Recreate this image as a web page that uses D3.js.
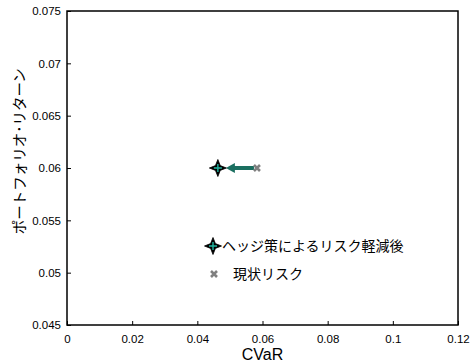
<!DOCTYPE html>
<html><head><meta charset="utf-8">
<script src="https://cdn.jsdelivr.net/npm/d3@7"></script>
<style>body{margin:0;background:#fff}svg{display:block}text{font-family:"Liberation Sans",Arial,"Noto Sans CJK JP",sans-serif}</style>
</head><body>
<script>
const xTicks = [0, 0.02, 0.04, 0.06, 0.08, 0.1, 0.12];
const yTicks = [0.045, 0.05, 0.055, 0.06, 0.065, 0.07, 0.075];
const seriesNames = ["ヘッジ策によるリスク軽減後", "現状リスク"];
const hedgedPoint = [0.0463, 0.06];
const currentPoint = [0.0583, 0.06];

const W = 473, H = 364;
const m = {l: 67, r: 15, t: 11, b: 39};
const svg = d3.select("body").append("svg").attr("width", W).attr("height", H);
const x = d3.scaleLinear().domain([0, 0.12]).range([m.l, W - m.r]);
const y = d3.scaleLinear().domain([0.045, 0.075]).range([H - m.b, m.t]);
const fmt = d => d3.format("")(+d.toFixed(3));

svg.append("rect").attr("x", m.l).attr("y", m.t).attr("width", x(0.12) - m.l).attr("height", y(0.045) - m.t)
  .attr("fill", "none").attr("stroke", "#000").attr("stroke-width", 1.5);

const xa = svg.append("g").attr("transform", `translate(0,${y(0.045)})`)
  .call(d3.axisBottom(x).tickValues(xTicks).tickSize(-4).tickPadding(8).tickFormat(fmt));
const ya = svg.append("g").attr("transform", `translate(${m.l},0)`)
  .call(d3.axisLeft(y).tickValues(yTicks).tickSize(-4).tickPadding(6).tickFormat(fmt));
[xa, ya].forEach(a => {
  a.select(".domain").remove();
  a.selectAll("line").attr("stroke", "#000");
  a.selectAll("text").attr("font-size", 11.5).attr("fill", "#000");
});
xa.selectAll("text").attr("dy", "0.85em");

svg.append("text").attr("x", x(0.06)).attr("y", H - 4).attr("text-anchor", "middle")
  .attr("font-size", 16).text("CVaR");
svg.append("text").attr("transform", `translate(25,${y(0.0616)}) rotate(-90)`)
  .attr("text-anchor", "middle").attr("font-size", 14.5).text("ポートフォリオ･リターン");

const teal = "#1b6f60";
function star(g, cx, cy) {
  const s = 8.5, w = 2.4;
  g.append("path").attr("d", `M${cx},${cy - s}L${cx + w},${cy - w}L${cx + s},${cy}L${cx + w},${cy + w}L${cx},${cy + s}L${cx - w},${cy + w}L${cx - s},${cy}L${cx - w},${cy - w}Z`)
    .attr("fill", "#000").attr("stroke", "#000").attr("stroke-width", 0.8).attr("stroke-linejoin", "round");
  g.append("path").attr("d", `M${cx - 4},${cy}H${cx + 4}M${cx},${cy - 4}V${cy + 4}`)
    .attr("stroke", "#22b5a0").attr("stroke-width", 1.4);
}
function cross(g, cx, cy) {
  const s = 3;
  g.append("path").attr("d", `M${cx - s},${cy - s}L${cx + s},${cy + s}M${cx - s},${cy + s}L${cx + s},${cy - s}`)
    .attr("stroke", "#808080").attr("stroke-width", 2.6);
}

const g = svg.append("g");
// arrow from current risk to hedged position
const ax0 = x(currentPoint[0]) - 3, ax1 = x(hedgedPoint[0]) + 8, ay = y(hedgedPoint[1]);
g.append("line").attr("x1", ax0).attr("x2", ax1 + 7).attr("y1", ay).attr("y2", ay)
  .attr("stroke", teal).attr("stroke-width", 4);
g.append("path").attr("d", `M${ax1},${ay}L${ax1 + 9},${ay - 5}L${ax1 + 9},${ay + 5}Z`).attr("fill", teal);
cross(g, x(currentPoint[0]), y(currentPoint[1]));
star(g, x(hedgedPoint[0]), y(hedgedPoint[1]));

// legend
const lg = svg.append("g");
star(lg, 213, 246);
lg.append("text").attr("x", 222).attr("y", 251).attr("font-size", 14).text(seriesNames[0]);
cross(lg, 214, 274);
lg.append("text").attr("x", 233).attr("y", 279).attr("font-size", 14).text(seriesNames[1]);
</script>
</body></html>
